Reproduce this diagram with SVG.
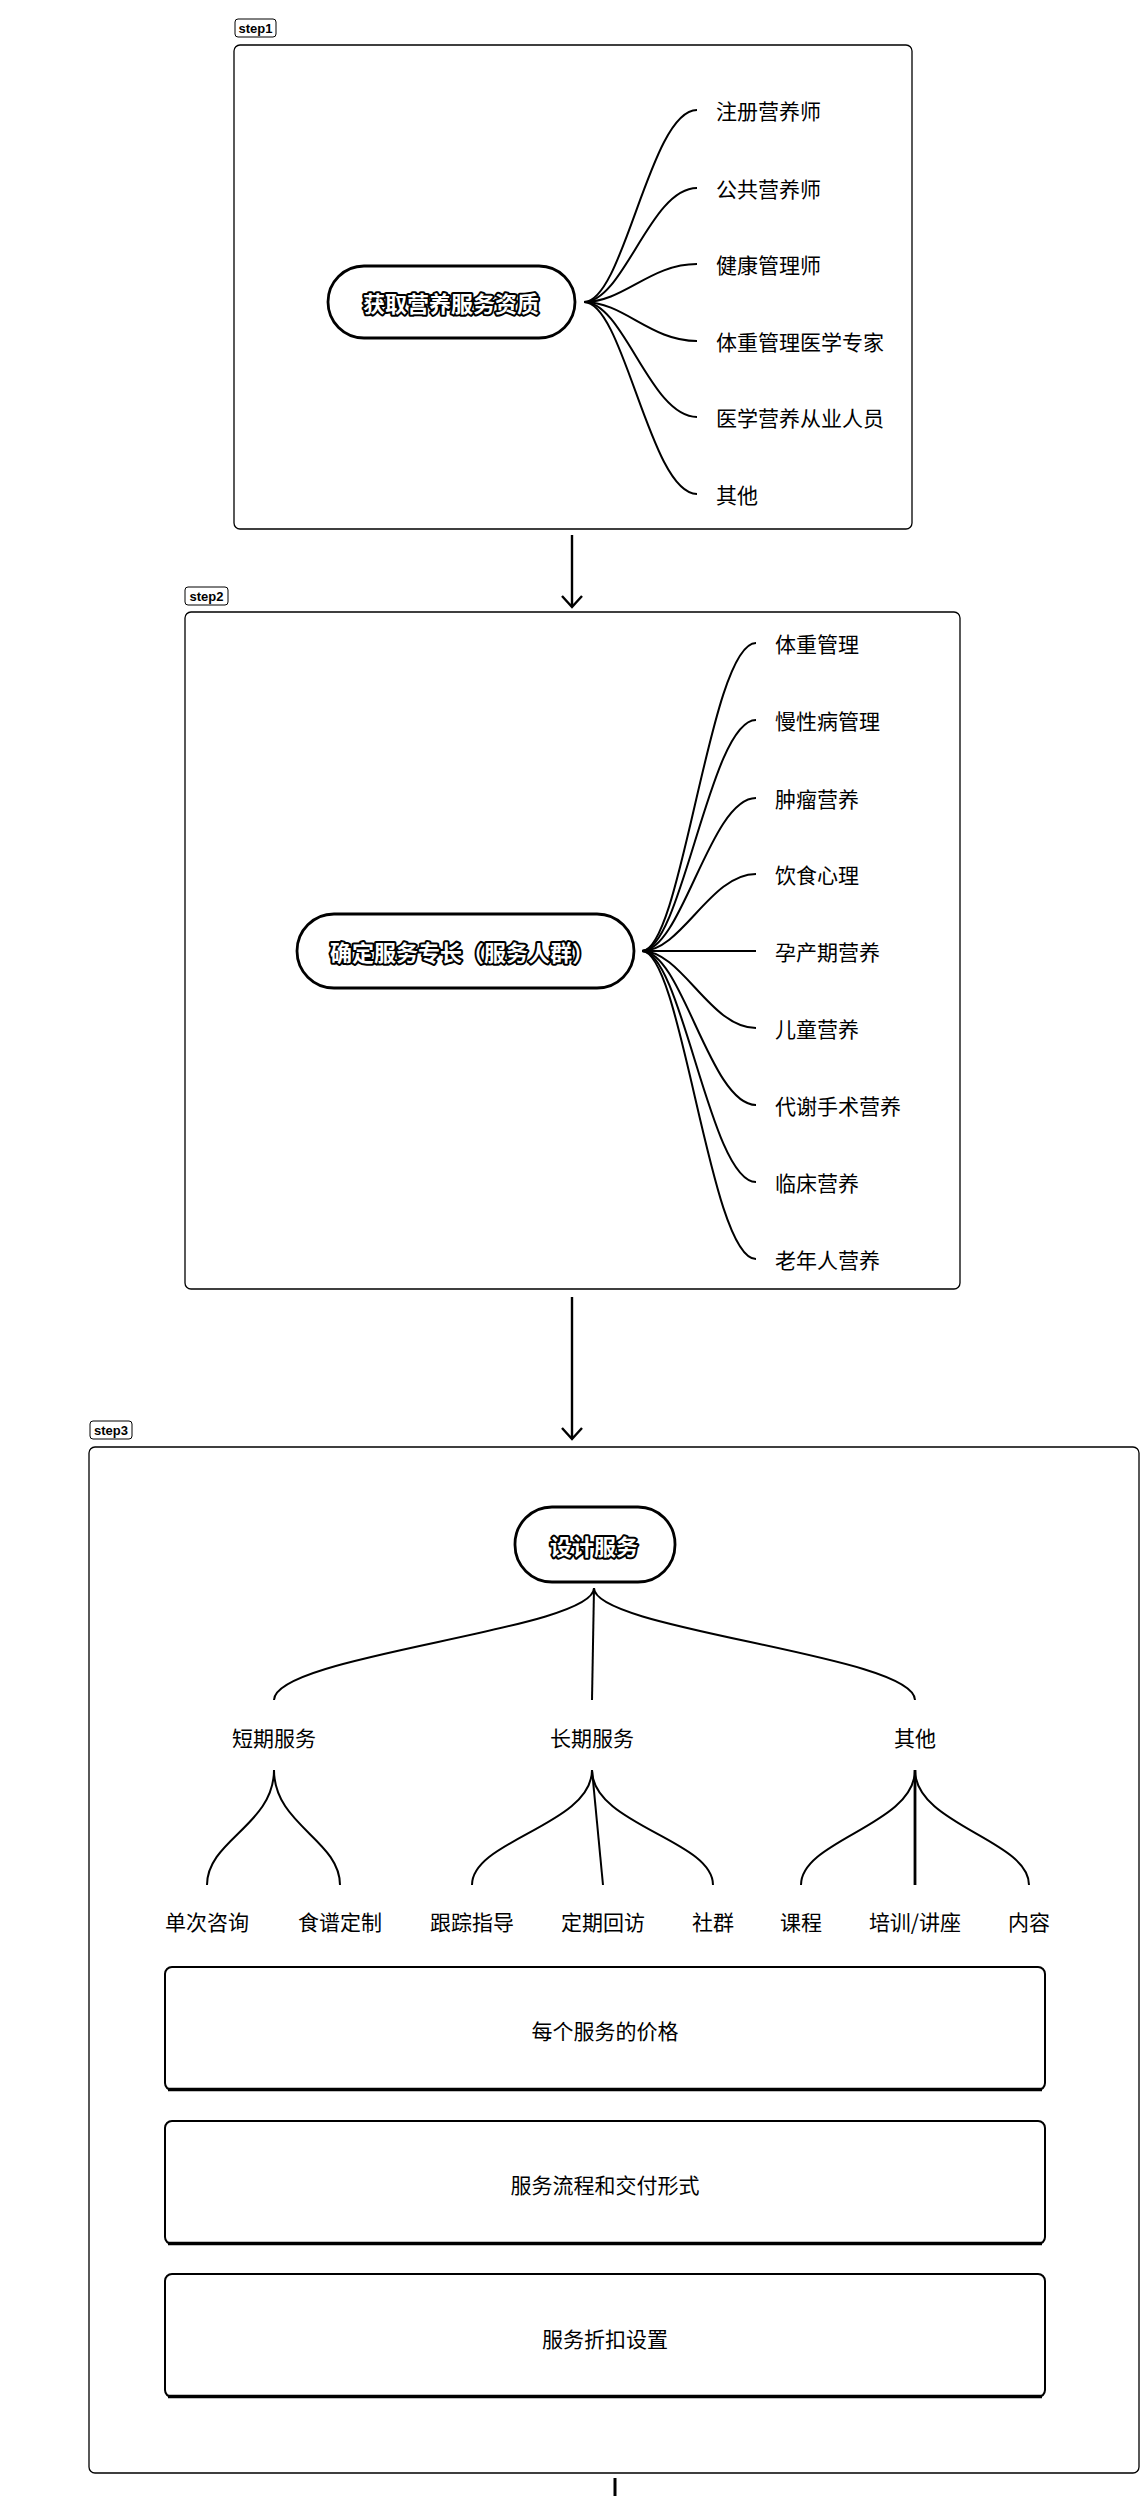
<svg xmlns="http://www.w3.org/2000/svg" width="1148" height="2496" viewBox="0 0 1148 2496">
<defs>
<style>
.frame{fill:#fff;stroke:#000;stroke-width:1.3}
.tag{fill:#fff;stroke:#000;stroke-width:1}
.tagt{font-family:"Liberation Sans","DejaVu Sans",sans-serif;font-weight:bold;font-size:13px;fill:#000}
.pill{fill:#fff;stroke:#000;stroke-width:2.8}
.pt{font-family:"Noto Sans CJK SC",sans-serif;font-weight:bold;font-size:22px;fill:#fff;stroke:#000;stroke-width:4;stroke-linejoin:round;paint-order:stroke}
.t{font-family:"Noto Sans CJK SC",sans-serif;font-size:21px;fill:#000}
.box{fill:#fff;stroke:#000;stroke-width:2}
.sh{fill:none;stroke:#000;stroke-width:3.5}
.c{fill:none;stroke:#000;stroke-width:2}
.a{fill:none;stroke:#000;stroke-width:2.4}
</style>
</defs>
<rect width="1148" height="2496" fill="#fff"/>

<g id="step1">
<rect class="frame" x="234" y="45" width="678" height="484" rx="6"/>
<rect class="tag" x="235" y="19" width="41" height="18" rx="3"/>
<text class="tagt" x="255.5" y="28" text-anchor="middle" dominant-baseline="central">step1</text>
</g>
<g id="step2">
<rect class="frame" x="185" y="612" width="775" height="677" rx="6"/>
<rect class="tag" x="185" y="587" width="43" height="18" rx="3"/>
<text class="tagt" x="206.5" y="596" text-anchor="middle" dominant-baseline="central">step2</text>
</g>
<g id="step3">
<rect class="frame" x="89" y="1447" width="1050" height="1026" rx="6"/>
<rect class="tag" x="90" y="1421" width="42" height="18" rx="3"/>
<text class="tagt" x="111" y="1430" text-anchor="middle" dominant-baseline="central">step3</text>
</g>

<g id="connectors">
<path class="a" d="M572,535 V606 M562,596 L572,607 L582,596"/>
<path class="a" d="M572,1297 V1438 M562,1428 L572,1439 L582,1428"/>
<path d="M615,2478 V2496" stroke="#000" stroke-width="3"/>
<path class="c" d="M584,302 C624,302 650,110 697,110"/>
<path class="c" d="M584,302 C624,302 650,188 697,188"/>
<path class="c" d="M584,302 C624,302 650,264 697,264"/>
<path class="c" d="M584,302 C624,302 650,341 697,341"/>
<path class="c" d="M584,302 C624,302 650,417 697,417"/>
<path class="c" d="M584,302 C624,302 650,494 697,494"/>
<path class="c" d="M642,951 C682,951 710,643 756,643"/>
<path class="c" d="M642,951 C682,951 710,720 756,720"/>
<path class="c" d="M642,951 C682,951 710,798 756,798"/>
<path class="c" d="M642,951 C682,951 710,874 756,874"/>
<path class="c" d="M642,951 L756,951"/>
<path class="c" d="M642,951 C682,951 710,1028 756,1028"/>
<path class="c" d="M642,951 C682,951 710,1105 756,1105"/>
<path class="c" d="M642,951 C682,951 710,1182 756,1182"/>
<path class="c" d="M642,951 C682,951 710,1259 756,1259"/>
<path class="c" d="M594,1588 C594,1630 274,1655 274,1700"/>
<path class="c" d="M594,1588 L592,1700"/>
<path class="c" d="M594,1588 C594,1630 915,1655 915,1700"/>
<path class="c" d="M274,1770 C274,1825 207,1840 207,1885"/>
<path class="c" d="M274,1770 C274,1825 340,1840 340,1885"/>
<path class="c" d="M592,1770 C592,1825 472,1840 472,1885"/>
<path class="c" d="M592,1770 L603,1885"/>
<path class="c" d="M592,1770 C592,1825 713,1840 713,1885"/>
<path class="c" d="M915,1770 C915,1825 801,1840 801,1885"/>
<path d="M915,1770 L915,1885" stroke="#000" stroke-width="2.8"/>
<path class="c" d="M915,1770 C915,1825 1029,1840 1029,1885"/>
</g>

<g id="n-qual">
<rect class="pill" x="328" y="266" width="247" height="72" rx="36"/>
<text class="pt" x="451" y="302" text-anchor="middle" dominant-baseline="central">获取营养服务资质</text>
</g>
<g id="n1-1"><text class="t" x="716" y="110" dominant-baseline="central">注册营养师</text></g>
<g id="n1-2"><text class="t" x="716" y="188" dominant-baseline="central">公共营养师</text></g>
<g id="n1-3"><text class="t" x="716" y="264" dominant-baseline="central">健康管理师</text></g>
<g id="n1-4"><text class="t" x="716" y="341" dominant-baseline="central">体重管理医学专家</text></g>
<g id="n1-5"><text class="t" x="716" y="417" dominant-baseline="central">医学营养从业人员</text></g>
<g id="n1-6"><text class="t" x="716" y="494" dominant-baseline="central">其他</text></g>

<g id="n-spec">
<rect class="pill" x="297" y="914" width="337" height="74" rx="37"/>
<text class="pt" x="462" y="951" text-anchor="middle" dominant-baseline="central">确定服务专长（服务人群）</text>
</g>
<g id="n2-1"><text class="t" x="775" y="643" dominant-baseline="central">体重管理</text></g>
<g id="n2-2"><text class="t" x="775" y="720" dominant-baseline="central">慢性病管理</text></g>
<g id="n2-3"><text class="t" x="775" y="798" dominant-baseline="central">肿瘤营养</text></g>
<g id="n2-4"><text class="t" x="775" y="874" dominant-baseline="central">饮食心理</text></g>
<g id="n2-5"><text class="t" x="775" y="951" dominant-baseline="central">孕产期营养</text></g>
<g id="n2-6"><text class="t" x="775" y="1028" dominant-baseline="central">儿童营养</text></g>
<g id="n2-7"><text class="t" x="775" y="1105" dominant-baseline="central">代谢手术营养</text></g>
<g id="n2-8"><text class="t" x="775" y="1182" dominant-baseline="central">临床营养</text></g>
<g id="n2-9"><text class="t" x="775" y="1259" dominant-baseline="central">老年人营养</text></g>

<g id="n-design">
<rect class="pill" x="515" y="1507" width="160" height="75" rx="37"/>
<text class="pt" x="594" y="1545" text-anchor="middle" dominant-baseline="central">设计服务</text>
</g>
<g id="n3-short"><text class="t" x="274" y="1737" text-anchor="middle" dominant-baseline="central">短期服务</text></g>
<g id="n3-long"><text class="t" x="592" y="1737" text-anchor="middle" dominant-baseline="central">长期服务</text></g>
<g id="n3-other"><text class="t" x="915" y="1737" text-anchor="middle" dominant-baseline="central">其他</text></g>
<g id="n3-1"><text class="t" x="207" y="1921" text-anchor="middle" dominant-baseline="central">单次咨询</text></g>
<g id="n3-2"><text class="t" x="340" y="1921" text-anchor="middle" dominant-baseline="central">食谱定制</text></g>
<g id="n3-3"><text class="t" x="472" y="1921" text-anchor="middle" dominant-baseline="central">跟踪指导</text></g>
<g id="n3-4"><text class="t" x="603" y="1921" text-anchor="middle" dominant-baseline="central">定期回访</text></g>
<g id="n3-5"><text class="t" x="713" y="1921" text-anchor="middle" dominant-baseline="central">社群</text></g>
<g id="n3-6"><text class="t" x="801" y="1921" text-anchor="middle" dominant-baseline="central">课程</text></g>
<g id="n3-7"><text class="t" x="915" y="1921" text-anchor="middle" dominant-baseline="central">培训/讲座</text></g>
<g id="n3-8"><text class="t" x="1029" y="1921" text-anchor="middle" dominant-baseline="central">内容</text></g>

<g id="b-price">
<rect class="box" x="165" y="1967" width="880" height="123" rx="7"/>
<path class="sh" d="M168,2089.5 H1042"/>
<text class="t" x="605" y="2030" text-anchor="middle" dominant-baseline="central">每个服务的价格</text>
</g>
<g id="b-flow">
<rect class="box" x="165" y="2121" width="880" height="123" rx="7"/>
<path class="sh" d="M168,2243.5 H1042"/>
<text class="t" x="605" y="2184" text-anchor="middle" dominant-baseline="central">服务流程和交付形式</text>
</g>
<g id="b-disc">
<rect class="box" x="165" y="2274" width="880" height="123" rx="7"/>
<path class="sh" d="M168,2396.5 H1042"/>
<text class="t" x="605" y="2338" text-anchor="middle" dominant-baseline="central">服务折扣设置</text>
</g>
</svg>
